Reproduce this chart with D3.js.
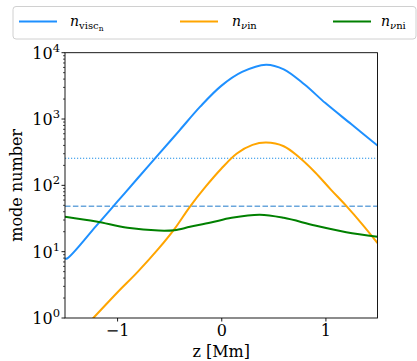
<!DOCTYPE html>
<html>
<head>
<meta charset="utf-8">
<script src="https://cdn.jsdelivr.net/npm/d3@7"></script>
<style>
  body { margin: 0; background: #fff; }
  text { font-family: "DejaVu Serif", serif; fill: #000; }
</style>
</head>
<body>
<div id="chart"></div>
<script>
// values (z in Mm, mode number)
const zVisc   = [-1.5, -1.48, -1.2, -1.0, -0.8, -0.6, -0.4, -0.2, 0.0, 0.2, 0.43, 0.6, 0.8, 1.0, 1.25, 1.5];
const nVisc   = [7.9, 7.9, 24.5, 56.2, 129, 295, 676, 1549, 3162, 5129, 6607, 5623, 3311, 1738, 832, 398];

const zVin    = [-1.5, -1.228, -1.0, -0.8, -0.6, -0.45, -0.3, -0.15, 0.0, 0.15, 0.3, 0.43, 0.6, 0.75, 0.9, 1.05, 1.2, 1.35, 1.5];
const nVin    = [0.355, 1.0, 2.4, 5.0, 11.2, 21.9, 47.9, 95.5, 178, 302, 407, 442, 389, 263, 158, 87.1, 49.0, 26.3, 13.5];

const zVni    = [-1.5, -1.2, -0.9, -0.6, -0.45, -0.3, -0.1, 0.1, 0.37, 0.6, 0.9, 1.2, 1.5];
const nVni    = [33.7, 28.5, 22.9, 20.8, 21.1, 23.7, 27.5, 32.4, 36.1, 32.4, 24.8, 19.7, 16.8];

const hLines  = [256, 48.4];   // dotted, dashed
const xTicks  = [-1, 0, 1];
const yTicks  = [1, 10, 100, 1000, 10000];

const W = 417, H = 361;
const margin = {left: 65, right: 39.5, top: 52.7, bottom: 43};

let svg = d3.select("#chart").append("svg")
    .attr("width", W).attr("height", H);

let x = d3.scaleLinear().domain([-1.5, 1.5]).range([margin.left, W - margin.right]);
let y = d3.scaleLog().domain([1, 1e4]).range([H - margin.bottom, margin.top]);

svg.append("clipPath").attr("id", "clip")
  .append("rect")
    .attr("x", margin.left).attr("y", margin.top)
    .attr("width", x(1.5) - x(-1.5)).attr("height", y(1) - y(1e4));

let plot = svg.append("g").attr("clip-path", "url(#clip)");

// reference levels
plot.append("line")
    .attr("x1", x(-1.5)).attr("x2", x(1.5))
    .attr("y1", y(hLines[0])).attr("y2", y(hLines[0]))
    .attr("stroke", "#1f8fe8").attr("stroke-width", 1.1)
    .attr("stroke-dasharray", "1.2,1.8");
plot.append("line")
    .attr("x1", x(-1.5)).attr("x2", x(1.5))
    .attr("y1", y(hLines[1])).attr("y2", y(hLines[1]))
    .attr("stroke", "#6aa6dc").attr("stroke-width", 1.5)
    .attr("stroke-dasharray", "5.5,2.4");

let line = d3.line()
    .x(d => x(d[0]))
    .y(d => y(d[1]))
    .curve(d3.curveCatmullRom.alpha(0.5));

let series = [
  {z: zVisc, n: nVisc, color: "#1e90ff"},
  {z: zVin,  n: nVin,  color: "#ffa500"},
  {z: zVni,  n: nVni,  color: "#008000"}
];

series.forEach(s => {
  plot.append("path")
      .datum(s.z.map((v, i) => [v, s.n[i]]))
      .attr("d", line)
      .attr("fill", "none")
      .attr("stroke", s.color)
      .attr("stroke-width", 2);
});

// frame
svg.append("rect")
    .attr("x", margin.left).attr("y", margin.top)
    .attr("width", x(1.5) - x(-1.5)).attr("height", y(1) - y(1e4))
    .attr("fill", "none").attr("stroke", "#000").attr("stroke-width", 0.9);

// x axis
let xAxis = svg.append("g")
    .attr("transform", "translate(0," + y(1) + ")")
    .call(d3.axisBottom(x).tickValues(xTicks).tickSize(3.5).tickPadding(3)
            .tickFormat(d => d < 0 ? "\u2212" + Math.abs(d) : d))
    .call(g => g.select(".domain").remove());
xAxis.selectAll("text").style("font-size", "16px").attr("fill", "#000");
xAxis.selectAll("line").attr("stroke", "#000").attr("stroke-width", 0.9);

// y axis (log, major + minor ticks)
let minor = [];
for (let k = 0; k < 4; k++) for (let m = 2; m < 10; m++) minor.push(m * Math.pow(10, k));
svg.append("g")
    .selectAll("line").data(minor).enter().append("line")
    .attr("x1", margin.left - 2).attr("x2", margin.left)
    .attr("y1", d => y(d)).attr("y2", d => y(d))
    .attr("stroke", "#000").attr("stroke-width", 0.7);

let yt = svg.append("g").selectAll("g").data(yTicks).enter().append("g")
    .attr("transform", d => "translate(0," + y(d) + ")");
yt.append("line")
    .attr("x1", margin.left - 3.5).attr("x2", margin.left)
    .attr("stroke", "#000").attr("stroke-width", 0.9);
let ytext = yt.append("text")
    .attr("x", margin.left - 5).attr("y", 6)
    .attr("text-anchor", "end")
    .style("font-size", "16px");
ytext.append("tspan").text("10");
ytext.append("tspan").attr("dy", -7).style("font-size", "11.5px")
    .text(d => Math.round(Math.log10(d)));

// axis titles
svg.append("text")
    .attr("x", (x(-1.5) + x(1.5)) / 2).attr("y", 357)
    .attr("text-anchor", "middle")
    .style("font-size", "16px")
    .text("z [Mm]");

svg.append("text")
    .attr("transform", "translate(22," + ((y(1) + y(1e4)) / 2) + ") rotate(-90)")
    .attr("text-anchor", "middle")
    .style("font-size", "16px")
    .text("mode number");

// legend
let legend = svg.append("g");
legend.append("rect")
    .attr("x", 13).attr("y", 6.5).attr("width", 403).attr("height", 32.5)
    .attr("rx", 3).attr("fill", "#fff")
    .attr("stroke", "#d0d0d0").attr("stroke-width", 1);

let legItems = [
  {x0: 19,  color: "#1e90ff", tx: 70},
  {x0: 180, color: "#ffa500", tx: 232},
  {x0: 333, color: "#008000", tx: 381}
];
legItems.forEach((d, i) => {
  legend.append("line")
      .attr("x1", d.x0).attr("x2", d.x0 + 38)
      .attr("y1", 21.5).attr("y2", 21.5)
      .attr("stroke", d.color).attr("stroke-width", 2);
  let t = legend.append("text").attr("x", d.tx).attr("y", 25.5).style("font-size", "14px");
  t.append("tspan").style("font-style", "italic").text("n");
  if (i === 0) {
    t.append("tspan").attr("dy", 3).style("font-size", "10px").text("visc");
    t.append("tspan").attr("dy", 2).style("font-size", "7.5px").text("n");
  } else {
    t.append("tspan").attr("dy", 3).style("font-size", "10px").style("font-style", "italic").text("\u03bd");
    t.append("tspan").style("font-size", "10px").text(i === 1 ? "in" : "ni");
  }
});
</script>
</body>
</html>
